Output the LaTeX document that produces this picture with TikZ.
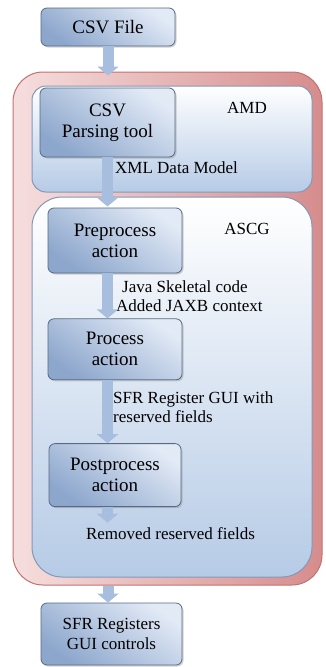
\documentclass[tikz,border=0pt]{standalone}
\usepackage{fontspec}
\setmainfont{Liberation Serif}
\usetikzlibrary{arrows.meta, positioning, shadows}

\definecolor{boxdark}{RGB}{140,166,204}
\definecolor{boxlight}{RGB}{226,234,246}
\definecolor{boxline}{RGB}{88,106,132}
\definecolor{grpfill}{RGB}{182,203,230}
\definecolor{grpline}{RGB}{130,152,186}
\definecolor{pinklight}{RGB}{246,222,222}
\definecolor{pinkdark}{RGB}{214,140,140}
\definecolor{pinkline}{RGB}{196,112,112}
\definecolor{flowfill}{RGB}{168,190,222}

\begin{document}
\begin{tikzpicture}[
  x=1pt, y=-1pt,
  box/.style={draw=boxline, line width=0.8pt, rounded corners=6pt, align=center,
    top color=boxlight, bottom color=boxdark, shading angle=-35,
    drop shadow={opacity=0.35, shadow xshift=1.5pt, shadow yshift=-1.5pt},
    inner sep=0pt, font=\fontsize{19}{21}\selectfont},
  group/.style={draw=grpline, line width=1pt, rounded corners=#1, top color=white,
    bottom color=grpfill, minimum width=280pt, inner sep=0pt},
  tag/.style={inner sep=0pt, align=left, font=\fontsize{17}{19}\selectfont},
  flow/.style={line width=11pt, draw=flowfill, -{Triangle[width=21pt,length=9pt]}}
]
\useasboundingbox (0,0) rectangle (326,667);

% Containers
\node[draw=pinkline, line width=1pt, rounded corners=30pt, left color=pinklight,
  right color=pinkdark, minimum width=309pt, minimum height=513pt] (outer) at (167.5,328.5) {};
\node[group=14pt, minimum height=106pt] (amd) at (172,139) {};
\node[group=30pt, minimum height=380pt] (ascg) at (172,387) {};
\node[tag] (amdlbl) at (247,108) {AMD};
\node[tag] (ascglbl) at (247,229) {ASCG};

% Nodes
\node[box, minimum width=134pt, minimum height=38pt] (csv) at (108,27) {CSV File};
\node[box, minimum width=135pt, minimum height=69pt] (parse) at (107.5,122.5) {CSV\\Parsing tool};
\node[box, minimum width=134pt, minimum height=65pt] (pre) at (115,240.5) {Preprocess\\action};
\node[box, minimum width=134pt, minimum height=61pt, below=45pt of pre] (proc) {Process\\action};
\node[box, minimum width=132pt, minimum height=63pt, below=63pt of proc] (post) {Postprocess\\action};
\node[box, minimum width=141pt, minimum height=62pt, font=\fontsize{17}{20}\selectfont] (sfr) at (111.5,634) {SFR Registers\\GUI controls};

% Labels
\node[tag, anchor=west] (xml) at (115,168) {XML Data Model};
\node[tag, anchor=west] (java) at (116,296.5) {\hspace{6pt}Java Skeletal code\\Added JAXB context};
\node[tag, anchor=west] (gui) at (113,407.5) {SFR Register GUI with\\reserved fields};
\node[tag] (rem) at (170.5,534) {Removed reserved fields};

% Arrows
\draw[flow, shorten >=-4pt] (csv.south) -- (csv.south |- outer.north);
\draw[flow, shorten >=-10pt] (parse.south) -- (parse.south |- ascg.north);
\draw[flow] (pre.south -| parse.south) -- (proc.north -| parse.south);
\draw[flow] (proc.south -| parse.south) -- (post.north -| parse.south);
\draw[flow, shorten >=5pt] (post.south -| parse.south) -- (rem.north -| parse.south);
\draw[flow] (outer.south -| csv.south) -- (sfr.north -| csv.south);

\end{tikzpicture}
\end{document}
